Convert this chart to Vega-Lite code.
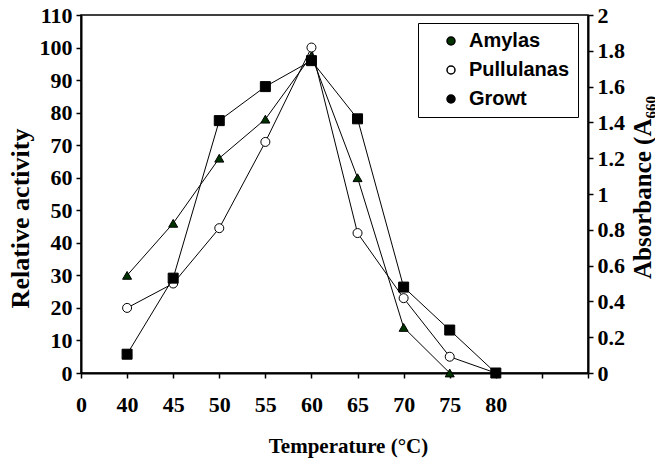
{
  "$schema": "https://vega.github.io/schema/vega-lite/v6.json",
  "autosize": "none",
  "width": 507,
  "height": 358,
  "padding": {"left": 81, "top": 15, "right": 67, "bottom": 88},
  "background": "white",
  "config": {
    "view": {"stroke": "black", "strokeWidth": 1.5},
    "axis": {
      "grid": false,
      "domainColor": "black",
      "domainWidth": 2,
      "tickColor": "black",
      "tickWidth": 1.5,
      "tickSize": 5,
      "labelFont": "Liberation Serif",
      "labelFontWeight": "bold",
      "labelFontSize": 22,
      "labelColor": "black",
      "titleFont": "Liberation Serif",
      "titleFontWeight": "bold",
      "titleColor": "black"
    },
    "legend": {
      "orient": "none",
      "legendX": 337,
      "legendY": 8,
      "direction": "vertical",
      "padding": 8,
      "strokeColor": "black",
      "fillColor": "white",
      "cornerRadius": 0,
      "rowPadding": 9,
      "symbolSize": 64,
      "symbolOffset": 15,
      "labelOffset": 8,
      "labelFont": "Liberation Sans",
      "labelFontWeight": "bold",
      "labelFontSize": 20,
      "labelColor": "black"
    }
  },
  "data": {
    "values": [
      {"series": "Amylas", "temp": 40, "value": 30},
      {"series": "Amylas", "temp": 45, "value": 46},
      {"series": "Amylas", "temp": 50, "value": 66},
      {"series": "Amylas", "temp": 55, "value": 78},
      {"series": "Amylas", "temp": 60, "value": 97.5},
      {"series": "Amylas", "temp": 65, "value": 60},
      {"series": "Amylas", "temp": 70, "value": 14},
      {"series": "Amylas", "temp": 75, "value": 0},
      {"series": "Pullulanas", "temp": 40, "value": 20},
      {"series": "Pullulanas", "temp": 45, "value": 27.5},
      {"series": "Pullulanas", "temp": 50, "value": 44.5},
      {"series": "Pullulanas", "temp": 55, "value": 71},
      {"series": "Pullulanas", "temp": 60, "value": 100},
      {"series": "Pullulanas", "temp": 65, "value": 43},
      {"series": "Pullulanas", "temp": 70, "value": 23},
      {"series": "Pullulanas", "temp": 75, "value": 5},
      {"series": "Pullulanas", "temp": 80, "value": 0},
      {"series": "Growt", "temp": 40, "value": 0.105},
      {"series": "Growt", "temp": 45, "value": 0.53},
      {"series": "Growt", "temp": 50, "value": 1.41},
      {"series": "Growt", "temp": 55, "value": 1.6},
      {"series": "Growt", "temp": 60, "value": 1.745},
      {"series": "Growt", "temp": 65, "value": 1.42},
      {"series": "Growt", "temp": 70, "value": 0.48},
      {"series": "Growt", "temp": 75, "value": 0.24},
      {"series": "Growt", "temp": 80, "value": 0}
    ]
  },
  "layer": [
    {
      "transform": [{"filter": "datum.series !== 'Growt'"}],
      "encoding": {
        "x": {
          "field": "temp",
          "type": "ordinal",
          "scale": {"type": "point", "padding": 0, "domain": [0, 40, 45, 50, 55, 60, 65, 70, 75, 80, 85, 90]},
          "axis": {
            "labelAngle": 0,
            "labelPadding": 16,
            "labelExpr": "datum.value > 80 ? '' : datum.label",
            "title": "Temperature (°C)",
            "titleFontSize": 21,
            "titleX": 267,
            "titleY": 73,
            "titleBaseline": "middle",
            "titleAlign": "center"
          }
        },
        "y": {
          "field": "value",
          "type": "quantitative",
          "scale": {"domain": [0, 110], "nice": false, "zero": true},
          "axis": {
            "values": [0, 10, 20, 30, 40, 50, 60, 70, 80, 90, 100, 110],
            "labelPadding": 4,
            "title": "Relative activity",
            "titleFontSize": 26,
            "titleAngle": 270,
            "titleX": -61,
            "titleY": 203,
            "titleBaseline": "middle",
            "titleAlign": "center"
          }
        }
      },
      "layer": [
        {
          "mark": {"type": "line", "color": "black", "strokeWidth": 1},
          "encoding": {"detail": {"field": "series"}}
        },
        {
          "mark": {"type": "point", "filled": true, "stroke": "black", "strokeWidth": 1, "opacity": 1, "size": 81},
          "encoding": {
            "shape": {
              "field": "series",
              "type": "nominal",
              "scale": {"domain": ["Growt", "Amylas", "Pullulanas"], "range": ["square", "triangle-up", "circle"]},
              "legend": null
            },
            "fill": {
              "field": "series",
              "type": "nominal",
              "scale": {"domain": ["Amylas", "Pullulanas", "Growt"], "range": ["#003300", "white", "black"]},
              "legend": {
                "title": null,
                "encode": {
                  "symbols": {
                    "shape": {
                      "condition": [
                        {"test": "datum.value === 'Amylas'", "value": "M-4.5,0H4.5M0,-1.1L1,0.7L-1,0.7Z"},
                        {"test": "datum.value === 'Pullulanas'", "value": "M-4.5,0H-1.1M1.1,0H4.5M-1.1,0A1.1,1.1,0,1,0,1.1,0A1.1,1.1,0,1,0,-1.1,0Z"}
                      ],
                      "value": "M-4.5,0H4.5M-1,-1H1V1H-1Z"
                    },
                    "stroke": {"value": "black"},
                    "strokeWidth": {"value": 1},
                    "opacity": {"value": 1}
                  }
                }
              }
            }
          }
        }
      ]
    },
    {
      "transform": [{"filter": "datum.series === 'Growt'"}],
      "encoding": {
        "x": {"field": "temp", "type": "ordinal"},
        "y": {
          "field": "value",
          "type": "quantitative",
          "scale": {"domain": [0, 2], "nice": false},
          "axis": {
            "orient": "right",
            "values": [0, 0.2, 0.4, 0.6, 0.8, 1, 1.2, 1.4, 1.6, 1.8, 2],
            "format": "~g",
            "labelPadding": 4,
            "title": "Absorbance (A₆₆₀",
            "titleFontSize": 25,
            "titleAngle": 270,
            "titleX": 54,
            "titleY": 172,
            "titleBaseline": "middle",
            "titleAlign": "center"
          }
        }
      },
      "layer": [
        {
          "mark": {"type": "line", "color": "black", "strokeWidth": 1},
          "encoding": {}
        },
        {
          "mark": {"type": "point", "filled": true, "stroke": "black", "strokeWidth": 1, "opacity": 1, "size": 100},
          "encoding": {
            "shape": {"field": "series", "type": "nominal"},
            "fill": {"field": "series", "type": "nominal"}
          }
        }
      ]
    }
  ],
  "resolve": {"scale": {"y": "independent"}}
}
